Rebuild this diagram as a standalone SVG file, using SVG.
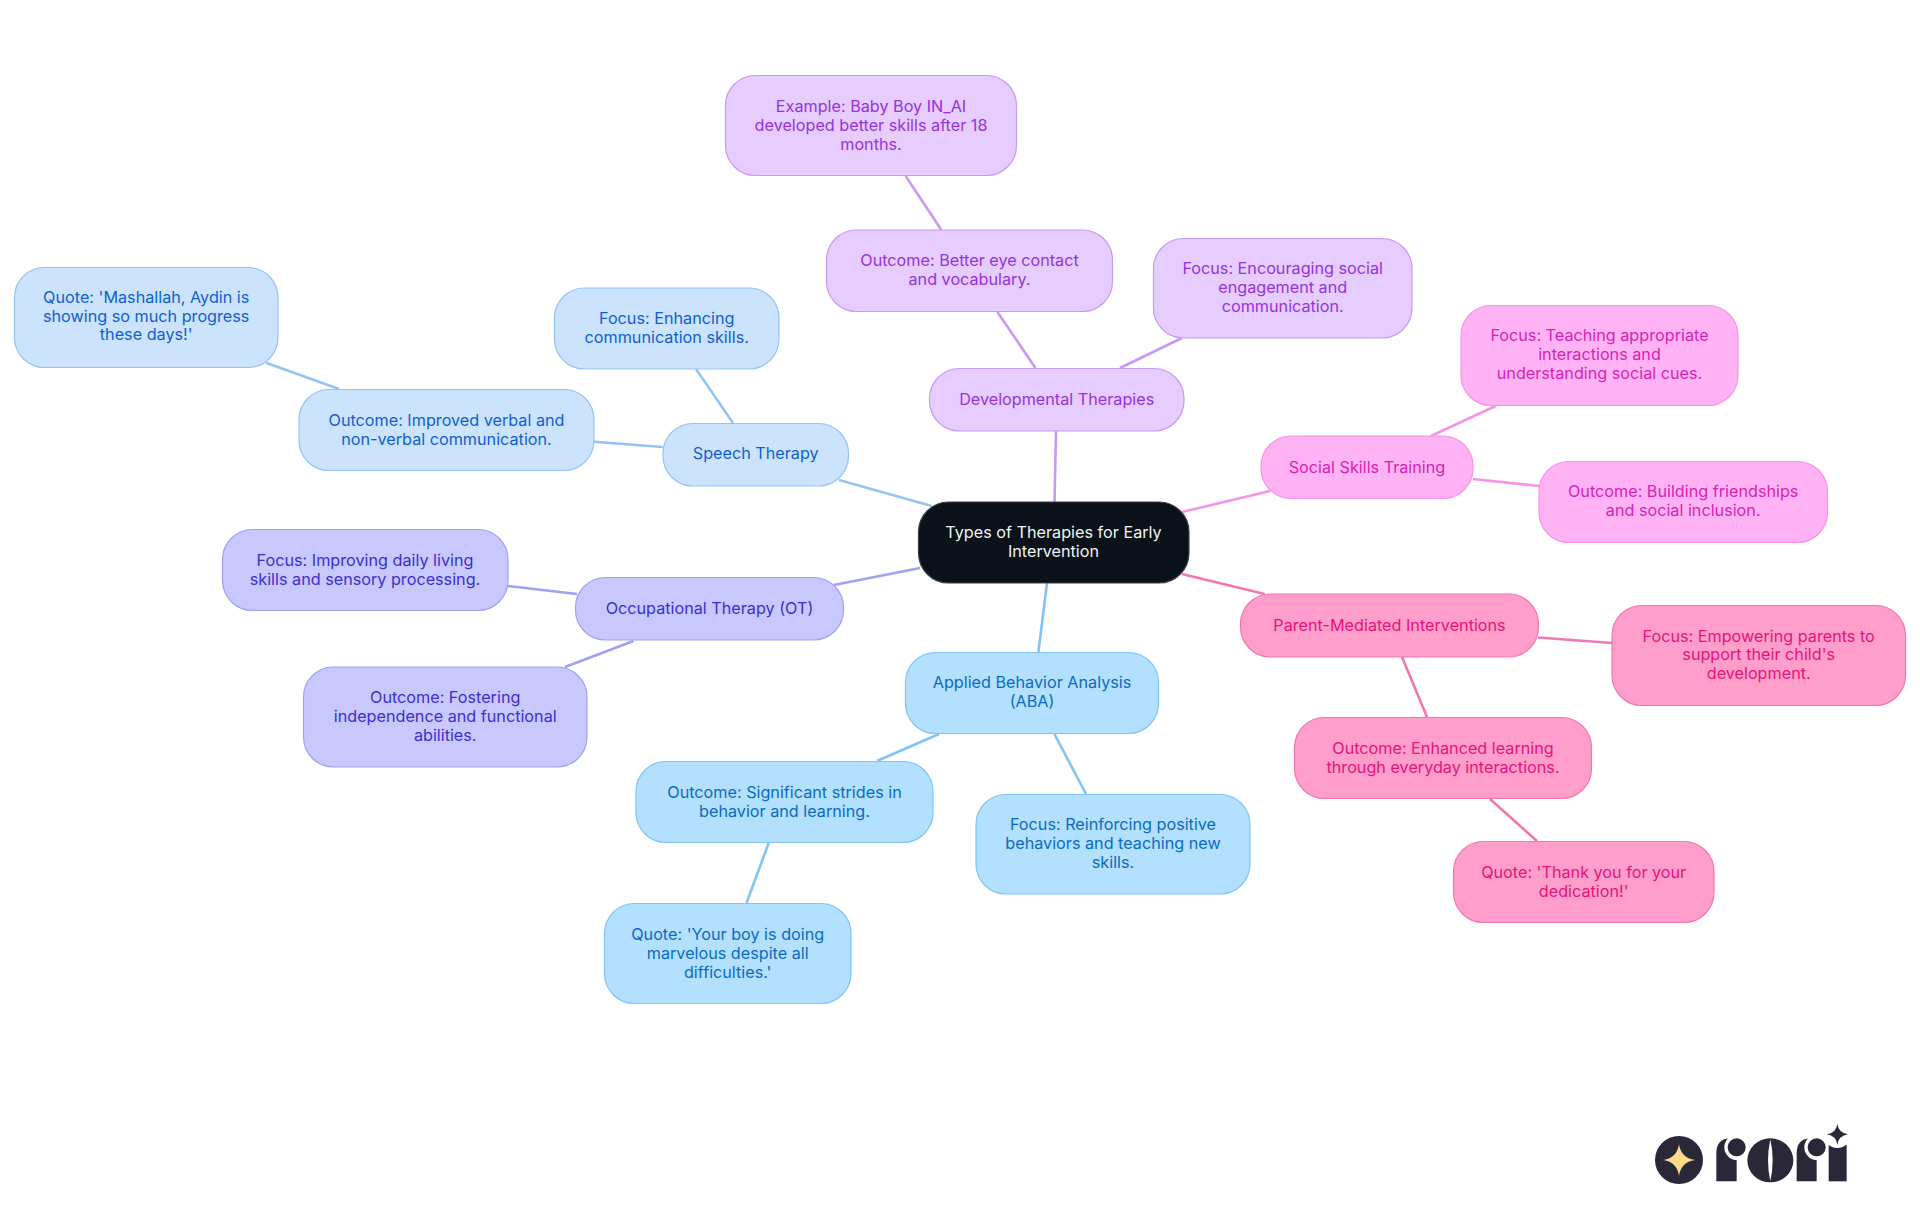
<svg xmlns="http://www.w3.org/2000/svg" width="1920" height="1215" viewBox="0 0 1920 1215">
<style>
text{font-family:"Inter","Noto Sans","Liberation Sans",sans-serif;font-size:16.2px;text-anchor:middle}
rect.n{stroke-width:1.2}
.root rect{fill:#0b1119;stroke:#3d4249}.root text{fill:#f2f3f4}
.aba rect{fill:#b3e0ff;stroke:#80c4f5}.aba text{fill:#0a6bc4}
.sp rect{fill:#cce3fd;stroke:#95c3f3}.sp text{fill:#0f5fd2}
.ot rect{fill:#c8c8ff;stroke:#a0a0f5}.ot text{fill:#3a2fd0}
.dev rect{fill:#e6ccff;stroke:#c898f5}.dev text{fill:#9433e0}
.soc rect{fill:#ffb3f5;stroke:#f594e6}.soc text{fill:#d81fb5}
.par rect{fill:#ff9ecb;stroke:#f077b2}.par text{fill:#e8127a}
#connectors line{stroke-width:2.6;fill:none}
.ca{stroke:#80c4f5}.cs{stroke:#95c3f3}.co{stroke:#a0a0f5}.cd{stroke:#c898f5}.cc{stroke:#f594e6}.cp{stroke:#f077b2}
.logo{fill:#2a2838}
</style>
<rect width="1920" height="1215" fill="#ffffff"/>
<g id="connectors">
<line class="cd" x1="1056" y1="431" x2="1054.5" y2="503"/>
<line class="cd" x1="997.4" y1="312" x2="1035.5" y2="368"/>
<line class="cd" x1="905.6" y1="176" x2="941.4" y2="230"/>
<line class="cd" x1="1120" y1="368" x2="1182" y2="338"/>
<line class="cc" x1="1182" y1="512" x2="1270" y2="491"/>
<line class="cc" x1="1431" y1="436" x2="1495.6" y2="406"/>
<line class="cc" x1="1472.7" y1="479" x2="1539" y2="486"/>
<line class="cp" x1="1182" y1="574" x2="1264.6" y2="594"/>
<line class="cp" x1="1538" y1="637.5" x2="1612" y2="643"/>
<line class="cp" x1="1402" y1="657" x2="1427" y2="717"/>
<line class="cp" x1="1490" y1="799" x2="1537" y2="841"/>
<line class="ca" x1="1047" y1="583" x2="1038.4" y2="652"/>
<line class="ca" x1="939" y1="734" x2="877" y2="761"/>
<line class="ca" x1="1054.4" y1="734" x2="1086" y2="794"/>
<line class="ca" x1="768.7" y1="843" x2="746.5" y2="903"/>
<line class="co" x1="920" y1="568" x2="834" y2="585"/>
<line class="co" x1="508" y1="586" x2="577" y2="594"/>
<line class="co" x1="633.5" y1="641" x2="565" y2="667"/>
<line class="cs" x1="931.7" y1="506" x2="839" y2="480"/>
<line class="cs" x1="733" y1="423" x2="696" y2="369"/>
<line class="cs" x1="594" y1="441.7" x2="662.5" y2="447"/>
<line class="cs" x1="266" y1="362.7" x2="339" y2="389"/>
</g>
<g id="root" class="root"><rect class="n" x="918.5" y="502" width="270.5" height="81" rx="30"/><text y="538"><tspan x="1053.5">Types of Therapies for Early</tspan><tspan x="1053.5" dy="18.8">Intervention</tspan></text></g>
<g id="aba" class="aba"><rect class="n" x="905.5" y="652.5" width="253" height="81" rx="30"/><text y="688.4"><tspan x="1032">Applied Behavior Analysis</tspan><tspan x="1032" dy="18.8">(ABA)</tspan></text></g>
<g id="aba-outcome" class="aba"><rect class="n" x="636" y="761.5" width="297" height="81" rx="30"/><text y="797.9"><tspan x="784.5">Outcome: Significant strides in</tspan><tspan x="784.5" dy="18.8">behavior and learning.</tspan></text></g>
<g id="aba-quote" class="aba"><rect class="n" x="604.5" y="903.5" width="246.5" height="100" rx="30"/><text y="939.9"><tspan x="727.7">Quote: 'Your boy is doing</tspan><tspan x="727.7" dy="18.8">marvelous despite all</tspan><tspan x="727.7" dy="18.8">difficulties.'</tspan></text></g>
<g id="aba-focus" class="aba"><rect class="n" x="976" y="794.5" width="274" height="99.5" rx="30"/><text y="830.3"><tspan x="1113">Focus: Reinforcing positive</tspan><tspan x="1113" dy="18.8">behaviors and teaching new</tspan><tspan x="1113" dy="18.8">skills.</tspan></text></g>
<g id="speech" class="sp"><rect class="n" x="663" y="423.5" width="185.5" height="62.5" rx="30"/><text y="459.3"><tspan x="755.7">Speech Therapy</tspan></text></g>
<g id="speech-focus" class="sp"><rect class="n" x="554.5" y="288" width="224.5" height="81" rx="30"/><text y="324.4"><tspan x="666.7">Focus: Enhancing</tspan><tspan x="666.7" dy="18.8">communication skills.</tspan></text></g>
<g id="speech-outcome" class="sp"><rect class="n" x="299" y="389.5" width="295" height="81" rx="30"/><text y="426"><tspan x="446.5">Outcome: Improved verbal and</tspan><tspan x="446.5" dy="18.8">non-verbal communication.</tspan></text></g>
<g id="speech-quote" class="sp"><rect class="n" x="14.5" y="267.5" width="263.5" height="100" rx="30"/><text y="302.8"><tspan x="146.2">Quote: 'Mashallah, Aydin is</tspan><tspan x="146.2" dy="18.8">showing so much progress</tspan><tspan x="146.2" dy="18.8">these days!'</tspan></text></g>
<g id="ot" class="ot"><rect class="n" x="575.5" y="577.5" width="268" height="62.5" rx="30"/><text y="614"><tspan x="709.5">Occupational Therapy (OT)</tspan></text></g>
<g id="ot-focus" class="ot"><rect class="n" x="222.5" y="529.5" width="285.5" height="81" rx="30"/><text y="566"><tspan x="365">Focus: Improving daily living</tspan><tspan x="365" dy="18.8">skills and sensory processing.</tspan></text></g>
<g id="ot-outcome" class="ot"><rect class="n" x="303.5" y="667" width="283.5" height="100" rx="30"/><text y="703.4"><tspan x="445.2">Outcome: Fostering</tspan><tspan x="445.2" dy="18.8">independence and functional</tspan><tspan x="445.2" dy="18.8">abilities.</tspan></text></g>
<g id="dev" class="dev"><rect class="n" x="929.5" y="368.5" width="254.5" height="62.5" rx="30"/><text y="405"><tspan x="1056.7">Developmental Therapies</tspan></text></g>
<g id="dev-outcome" class="dev"><rect class="n" x="826.5" y="230" width="286" height="81.5" rx="30"/><text y="266.4"><tspan x="969.5">Outcome: Better eye contact</tspan><tspan x="969.5" dy="18.8">and vocabulary.</tspan></text></g>
<g id="dev-example" class="dev"><rect class="n" x="725.5" y="75.5" width="291" height="100" rx="30"/><text y="111.9"><tspan x="871">Example: Baby Boy IN_AI</tspan><tspan x="871" dy="18.8">developed better skills after 18</tspan><tspan x="871" dy="18.8">months.</tspan></text></g>
<g id="dev-focus" class="dev"><rect class="n" x="1153.5" y="238.5" width="258.5" height="99.5" rx="30"/><text y="274.3"><tspan x="1282.7">Focus: Encouraging social</tspan><tspan x="1282.7" dy="18.8">engagement and</tspan><tspan x="1282.7" dy="18.8">communication.</tspan></text></g>
<g id="social" class="soc"><rect class="n" x="1261" y="436" width="212" height="62.5" rx="30"/><text y="473"><tspan x="1367">Social Skills Training</tspan></text></g>
<g id="social-focus" class="soc"><rect class="n" x="1461" y="305.5" width="277" height="100" rx="30"/><text y="341.3"><tspan x="1599.5">Focus: Teaching appropriate</tspan><tspan x="1599.5" dy="18.8">interactions and</tspan><tspan x="1599.5" dy="18.8">understanding social cues.</tspan></text></g>
<g id="social-outcome" class="soc"><rect class="n" x="1539" y="461.5" width="288.5" height="81" rx="30"/><text y="497.3"><tspan x="1683.2">Outcome: Building friendships</tspan><tspan x="1683.2" dy="18.8">and social inclusion.</tspan></text></g>
<g id="parent" class="par"><rect class="n" x="1240.5" y="594" width="298" height="63" rx="30"/><text y="630.5"><tspan x="1389.5">Parent-Mediated Interventions</tspan></text></g>
<g id="parent-focus" class="par"><rect class="n" x="1612" y="605.5" width="293.5" height="100" rx="30"/><text y="641.5"><tspan x="1758.7">Focus: Empowering parents to</tspan><tspan x="1758.7" dy="18.8">support their child's</tspan><tspan x="1758.7" dy="18.8">development.</tspan></text></g>
<g id="parent-outcome" class="par"><rect class="n" x="1294.5" y="717.5" width="297" height="81" rx="30"/><text y="753.9"><tspan x="1443">Outcome: Enhanced learning</tspan><tspan x="1443" dy="18.8">through everyday interactions.</tspan></text></g>
<g id="parent-quote" class="par"><rect class="n" x="1453.5" y="841.5" width="260.5" height="81" rx="30"/><text y="877.9"><tspan x="1583.7">Quote: 'Thank you for your</tspan><tspan x="1583.7" dy="18.8">dedication!'</tspan></text></g>
<g id="logo" transform="translate(1600 1090) scale(.33333)">
<circle class="logo" cx="237" cy="210" r="72"/>
<path fill="#fdd989" d="M237 163Q243 204 285 210Q243 216 237 258Q231 216 190 210Q231 204 237 163Z"/>
<path class="logo" d="M349 274V190Q349 148 388 145H410V274Z"/>
<circle fill="#fff" cx="412" cy="172" r="39"/>
<circle class="logo" cx="410" cy="172" r="27"/>
<ellipse class="logo" cx="511" cy="211" rx="69" ry="66"/>
<path fill="#fff" d="M511 148Q497 211 511 274Q525 211 511 148Z"/>
<path class="logo" d="M590 274V190Q590 148 629 145H650V274Z"/>
<circle fill="#fff" cx="652" cy="172" r="39"/>
<circle class="logo" cx="650" cy="172" r="27"/>
<rect class="logo" x="686" y="165" width="54" height="109"/>
<circle fill="#fff" cx="712" cy="133" r="41"/>
<path class="logo" d="M712 102Q716 129 744 133Q716 137 712 165Q708 137 681 133Q708 129 712 102Z"/>
</g>
</svg>
